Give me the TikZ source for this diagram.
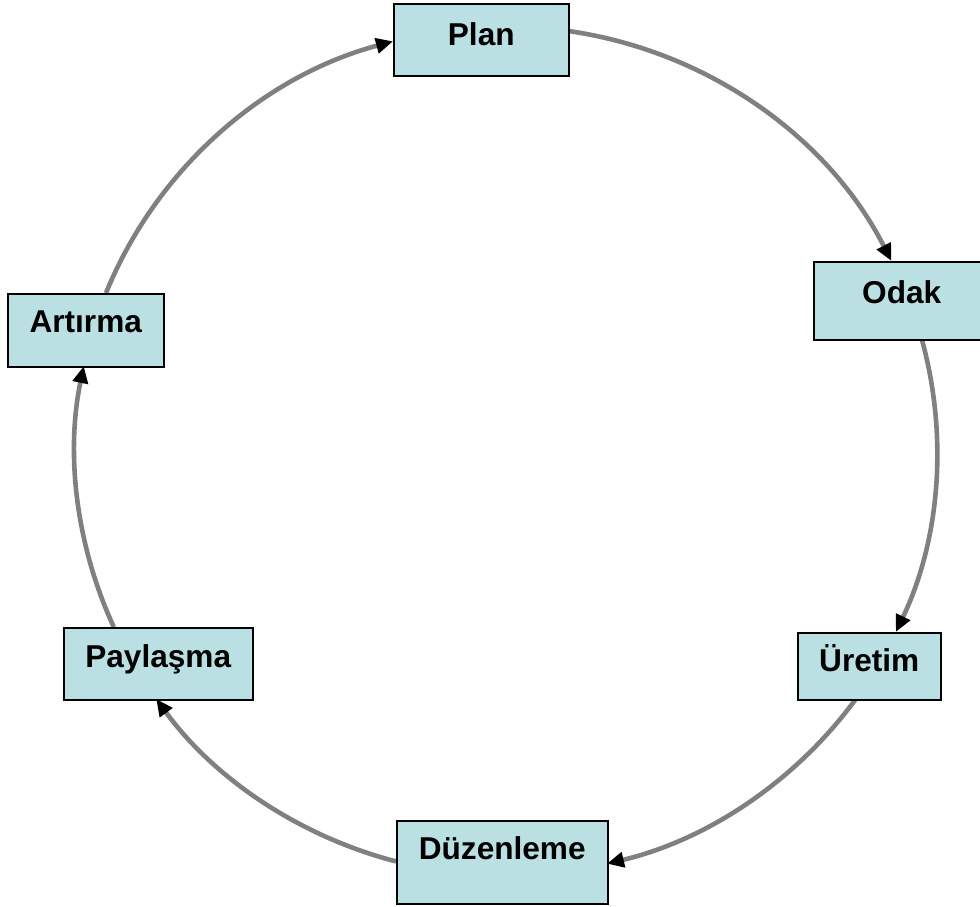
\documentclass[tikz,border=0pt]{standalone}
\usepackage{fontspec}
\setmainfont{Liberation Sans}
\usetikzlibrary{arrows.meta,calc}
\definecolor{boxfill}{RGB}{187,224,227}
\definecolor{ringgray}{RGB}{128,128,128}
\tikzset{
  stage/.style={draw=black, line width=1.5pt, fill=boxfill, inner sep=0pt,
    font=\fontsize{31.6}{36}\selectfont\bfseries, anchor=north west},
  flow/.style={draw=ringgray, line width=4.6pt,
    -{Triangle[length=17pt,width=15pt,color=black]}},
}
\begin{document}
\begin{tikzpicture}[x=1pt,y=-1pt]
\useasboundingbox (0,0) rectangle (980,906);
\clip (0,0) rectangle (980,906);
% centre of the elliptical cycle (radii 431 x 424.5)
\coordinate (c) at (506,451);

% cycle arcs, clockwise
\draw[flow] ($(c)+(-81.73:431 and 424.5)$) arc[start angle=-81.73, end angle=-26.6, x radius=431, y radius=424.5];
\draw[flow] ($(c)+(-15.3:431 and 424.5)$) arc[start angle=-15.3, end angle=25.24, x radius=431, y radius=424.5];
\draw[flow] ($(c)+(35.75:431 and 424.5)$) arc[start angle=35.75, end angle=76.45, x radius=431, y radius=424.5];
\draw[flow] ($(c)+(104.79:431 and 424.5)$) arc[start angle=104.79, end angle=144.25, x radius=431, y radius=424.5];
\draw[flow] ($(c)+(155.5:431 and 424.5)$) arc[start angle=155.5, end angle=191.55, x radius=431, y radius=424.5];
\draw[flow] ($(c)+(201.85:431 and 424.5)$) arc[start angle=201.85, end angle=254.8, x radius=431, y radius=424.5];

% stages
\node[stage, minimum width=175pt, text height=42pt, text depth=30pt] (plan) at (393,3) {Plan};
\node[stage, minimum width=176pt, text height=42pt, text depth=36pt] (odak) at (813,261) {Odak};
\node[stage, minimum width=143pt, text height=39pt, text depth=28pt] (uretim) at (797,632) {Üretim};
\node[stage, minimum width=211pt, text height=39pt, text depth=44pt] (duzen) at (396,820) {Düzenleme};
\node[stage, minimum width=189pt, text height=40pt, text depth=32pt] (paylas) at (63,627) {Paylaşma};
\node[stage, minimum width=156pt, text height=39pt, text depth=34pt] (artir) at (7,293) {Artırma};
\end{tikzpicture}
\end{document}
